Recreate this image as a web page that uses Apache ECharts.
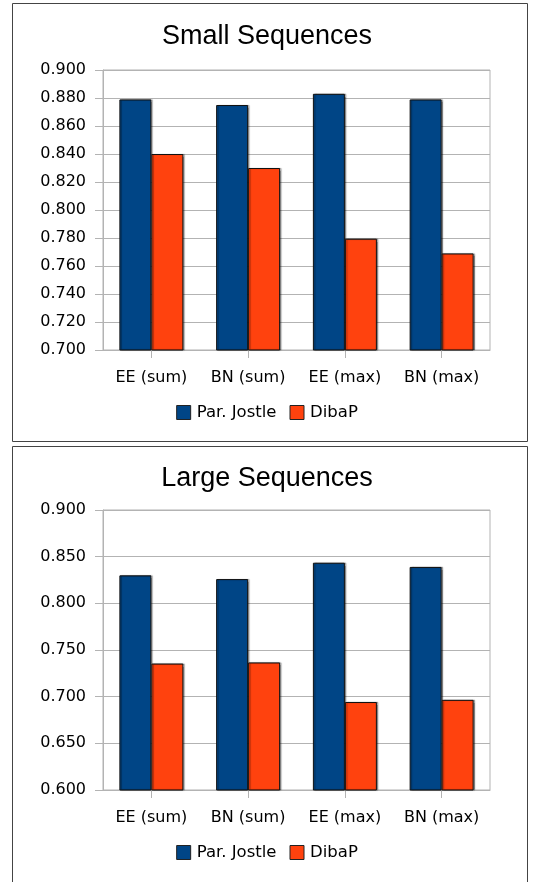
<!DOCTYPE html>
<html>
<head>
<meta charset="utf-8">
<script src="https://cdn.jsdelivr.net/npm/echarts@6/dist/echarts.min.js"></script>
<style>
html,body{margin:0;padding:0;background:#fff;}
#main{width:534px;height:882px;}
</style>
</head>
<body>
<div id="main"></div>
<script>
// ---- data ----
var categories = ['EE (sum)', 'BN (sum)', 'EE (max)', 'BN (max)'];
var seriesNames = ['Par. Jostle', 'DibaP'];
var smallTitle = 'Small Sequences';
var smallJostle = [0.879, 0.875, 0.883, 0.879];
var smallDibaP = [0.840, 0.830, 0.7795, 0.769];
var largeTitle = 'Large Sequences';
var largeJostle = [0.830, 0.826, 0.8435, 0.839];
var largeDibaP = [0.7355, 0.7367, 0.6943, 0.6966];
var smallAxis = {min: 0.70, max: 0.90, interval: 0.02};
var largeAxis = {min: 0.60, max: 0.90, interval: 0.05};

var colors = ['#004586', '#ff420e'];
var FONT = 'DejaVu Sans';

var chart = echarts.init(document.getElementById('main'), null, {renderer: 'canvas'});

function yAxis(idx, ax) {
  return {
    type: 'value', gridIndex: idx, min: ax.min, max: ax.max, interval: ax.interval,
    axisLine: {show: true, lineStyle: {color: '#b3b3b3', width: 1}},
    axisTick: {show: true, length: 8, lineStyle: {color: '#b3b3b3'}},
    splitLine: {show: true, lineStyle: {color: '#b3b3b3', width: 1}},
    axisLabel: {color: '#000', fontFamily: FONT, fontSize: 16, margin: 17,
      formatter: function (v) { return v.toFixed(3); }}
  };
}
function xAxis(idx) {
  return {
    type: 'category', gridIndex: idx, data: categories,
    axisLine: {show: true, lineStyle: {color: '#b3b3b3', width: 1}},
    axisTick: {show: true, alignWithLabel: true, interval: 0, length: 8, lineStyle: {color: '#b3b3b3'}},
    axisLabel: {color: '#000', fontFamily: FONT, fontSize: 16, margin: 20, interval: 0, hideOverlap: false}
  };
}
function bar(name, data, idx, color) {
  return {
    name: name, type: 'bar', xAxisIndex: idx, yAxisIndex: idx, data: data,
    barWidth: 32, barGap: '0%',
    itemStyle: {color: color, borderColor: '#111', borderWidth: 1,
      shadowColor: 'rgba(0,0,0,0.35)', shadowOffsetX: 1.5, shadowOffsetY: 0, shadowBlur: 1},
    animation: false
  };
}
function legend(top) {
  return {
    top: top, left: 'center', itemWidth: 14, itemHeight: 14, itemGap: 13,
    icon: 'rect', data: seriesNames,
    itemStyle: {borderColor: '#222', borderWidth: 1},
    textStyle: {color: '#000', fontFamily: FONT, fontSize: 16.5, padding: [0, 0, 0, 1]}
  };
}

var option = {
  backgroundColor: '#fff',
  animation: false,
  color: colors,
  graphic: [
    {type: 'rect', shape: {x: 12.5, y: 3.5, width: 515, height: 438}, style: {fill: 'none', stroke: '#444', lineWidth: 1}, z: -1},
    {type: 'rect', shape: {x: 12.5, y: 446.5, width: 515, height: 460}, style: {fill: 'none', stroke: '#444', lineWidth: 1}, z: -1}
  ],
  title: [
    {text: smallTitle, left: 'center', top: 18, textStyle: {fontFamily: 'Liberation Sans', fontSize: 27, fontWeight: 'normal', color: '#000'}},
    {text: largeTitle, left: 'center', top: 460, textStyle: {fontFamily: 'Liberation Sans', fontSize: 27, fontWeight: 'normal', color: '#000'}}
  ],
  legend: [legend(399), legend(839)],
  grid: [
    {left: 103, right: 44, top: 70, height: 280, show: true, borderColor: '#b3b3b3', borderWidth: 1},
    {left: 103, right: 44, top: 510, height: 280, show: true, borderColor: '#b3b3b3', borderWidth: 1}
  ],
  xAxis: [xAxis(0), xAxis(1)],
  yAxis: [yAxis(0, smallAxis), yAxis(1, largeAxis)],
  series: [
    bar(seriesNames[0], smallJostle, 0, colors[0]),
    bar(seriesNames[1], smallDibaP, 0, colors[1]),
    bar(seriesNames[0], largeJostle, 1, colors[0]),
    bar(seriesNames[1], largeDibaP, 1, colors[1])
  ]
};
chart.setOption(option);
</script>
</body>
</html>
